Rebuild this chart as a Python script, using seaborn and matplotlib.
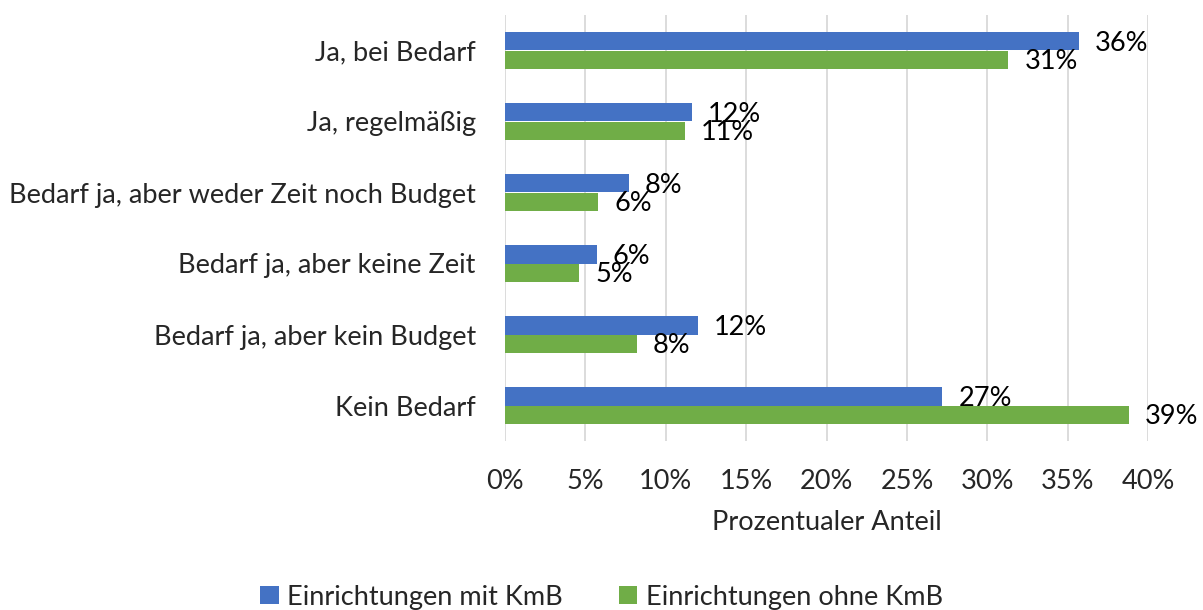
import matplotlib
matplotlib.use("Agg")
import matplotlib.pyplot as plt
import seaborn as sns
import pandas as pd
from matplotlib.patches import Patch

categories = ["Ja, bei Bedarf", "Ja, regelmäßig", "Bedarf ja, aber weder Zeit noch Budget",
              "Bedarf ja, aber keine Zeit", "Bedarf ja, aber kein Budget", "Kein Bedarf"]
series_names = ["Einrichtungen mit KmB", "Einrichtungen ohne KmB"]
mit_kmb = [35.7, 11.6, 7.7, 5.7, 12.0, 27.2]
ohne_kmb = [31.3, 11.2, 5.8, 4.6, 8.2, 38.8]
x_ticks = [0, 5, 10, 15, 20, 25, 30, 35, 40]
x_label = "Prozentualer Anteil"

colors = ["#4472C4", "#70AD47"]

df = pd.DataFrame({
    "Kategorie": categories * 2,
    "Serie": [series_names[0]] * len(categories) + [series_names[1]] * len(categories),
    "Wert": mit_kmb + ohne_kmb,
})

sns.set_theme(style="white")
plt.rcParams["font.family"] = ["Lato", "DejaVu Sans"]
FS = 19.5

fig = plt.figure(figsize=(12.03, 6.10), dpi=100)
ax = fig.add_axes([505/1203, 1-441/610, (1148.3-505)/1203, (441-15)/610])

sns.barplot(data=df, y="Kategorie", x="Wert", hue="Serie", order=categories,
            hue_order=series_names, palette=colors, width=0.51, orient="h",
            saturation=1, ax=ax, legend=False, edgecolor="none")

for cont in ax.containers:
    for bar in cont:
        w = bar.get_width()
        yc = bar.get_y() + bar.get_height() / 2
        ax.annotate(f"{w:.0f}%", xy=(w, yc), xytext=(16, -2), textcoords="offset pixels",
                    ha="left", va="center", fontsize=FS, color="#000000")

ax.set_xlim(0, 40)
ax.set_xticks(x_ticks)
ax.set_xticklabels([f"{t}%" for t in x_ticks], fontsize=FS)
ax.tick_params(axis="y", labelsize=FS, length=0, pad=21)
ax.tick_params(axis="x", length=0, pad=20)
ax.set_ylabel("")
ax.set_xlabel(x_label, fontsize=FS, labelpad=12)
ax.xaxis.grid(True, color="#d9d9d9", linewidth=1.3)
ax.yaxis.grid(False)
ax.set_axisbelow(True)
for s in ax.spines.values():
    s.set_visible(False)

handles = [Patch(facecolor=c, edgecolor="none") for c in colors]
fig.legend(handles, series_names, loc="center", bbox_to_anchor=(0.5, 1-597/610), ncol=2,
           frameon=False, fontsize=FS, handlelength=0.67, handleheight=0.67,
           handletextpad=0.3, columnspacing=2.1, borderpad=0)

fig.savefig("out.png", dpi=100)
